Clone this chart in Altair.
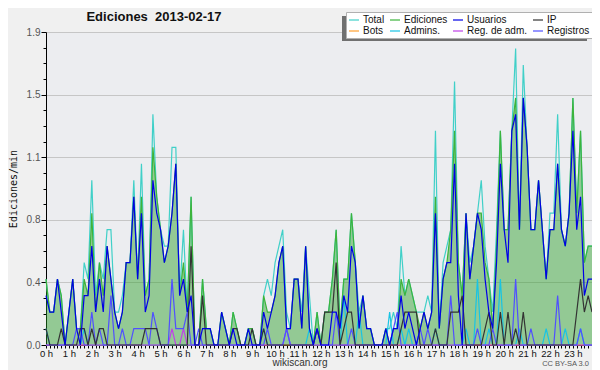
import altair as alt
import pandas as pd

# 10-minute slots over the day (minutes since midnight)
minutes = list(range(0, 1440, 10))

# legend order (filled column by column: Total/Bots, Ediciones/Admins., ...)
series_names = ["Total", "Bots", "Ediciones", "Admins.", "Usuarios", "Reg. de adm.", "IP", "Registros"]
series_colors = ["#40d0c8", "#ffa030", "#3cb43c", "#18c4e4", "#0000e6", "#c040e8", "#333333", "#5050ff"]

total = [
    0.4, 0.2, 0.2, 0.4, 0.3, 0.0,
    0.2, 0.4, 0.1, 0.1, 0.5, 0.4,
    1.0, 0.3, 0.5, 0.4, 0.7, 0.7,
    0.2, 0.2, 0.3, 0.5, 0.5, 1.0,
    0.4, 1.1, 0.3, 0.4, 1.4, 0.9,
    0.7, 0.6, 0.6, 1.2, 1.2, 0.3,
    0.7, 0.2, 0.9, 0.0, 0.0, 0.4,
    0.1, 0.1, 0.0, 0.0, 0.2, 0.1,
    0.0, 0.2, 0.1, 0.0, 0.0, 0.1,
    0.1, 0.0, 0.0, 0.3, 0.4, 0.3,
    0.5, 0.6, 0.7, 0.2, 0.1, 0.4,
    0.4, 0.2, 0.6, 0.3, 0.0, 0.2,
    0.0, 0.2, 0.2, 0.4, 0.7, 0.1,
    0.4, 0.4, 0.8, 0.5, 0.2, 0.3,
    0.1, 0.1, 0.0, 0.0, 0.0, 0.1,
    0.1, 0.2, 0.1, 0.6, 0.3, 0.4,
    0.3, 0.2, 0.2, 0.2, 0.3, 0.2,
    1.3, 0.1, 0.5, 0.6, 0.7, 1.6,
    0.5, 0.3, 0.8, 0.5, 0.6, 0.8,
    1.0, 0.6, 0.4, 0.2, 0.7, 1.3,
    0.7, 0.7, 1.3, 1.8, 0.7, 1.7,
    1.2, 0.7, 0.7, 1.0, 0.7, 0.4,
    0.8, 0.8, 1.4, 0.7, 0.6, 0.8,
    1.5, 0.8, 1.3, 0.5, 0.6, 0.6,
]

ediciones = [
    0.4, 0.2, 0.2, 0.4, 0.3, 0.0,
    0.2, 0.4, 0.1, 0.1, 0.4, 0.3,
    0.8, 0.2, 0.5, 0.3, 0.6, 0.4,
    0.2, 0.1, 0.2, 0.5, 0.5, 0.9,
    0.4, 0.9, 0.3, 0.4, 1.2, 0.9,
    0.7, 0.5, 0.6, 0.8, 1.1, 0.3,
    0.5, 0.2, 0.9, 0.0, 0.0, 0.4,
    0.1, 0.1, 0.0, 0.0, 0.2, 0.1,
    0.0, 0.2, 0.1, 0.0, 0.0, 0.1,
    0.1, 0.0, 0.0, 0.3, 0.2, 0.2,
    0.3, 0.5, 0.6, 0.1, 0.1, 0.4,
    0.4, 0.1, 0.6, 0.1, 0.0, 0.2,
    0.0, 0.2, 0.2, 0.4, 0.7, 0.1,
    0.4, 0.4, 0.8, 0.5, 0.1, 0.3,
    0.1, 0.1, 0.0, 0.0, 0.0, 0.1,
    0.0, 0.1, 0.1, 0.4, 0.3, 0.4,
    0.3, 0.2, 0.1, 0.2, 0.1, 0.2,
    0.9, 0.1, 0.4, 0.5, 0.7, 1.3,
    0.5, 0.3, 0.8, 0.4, 0.6, 0.8,
    0.8, 0.5, 0.4, 0.1, 0.6, 1.3,
    0.7, 0.7, 1.3, 1.5, 0.7, 1.5,
    1.2, 0.7, 0.7, 1.0, 0.7, 0.4,
    0.7, 0.7, 1.1, 0.7, 0.6, 0.8,
    1.5, 0.8, 1.3, 0.5, 0.6, 0.6,
]

usuarios = [
    0.3, 0.2, 0.2, 0.4, 0.2, 0.0,
    0.2, 0.4, 0.1, 0.0, 0.3, 0.3,
    0.6, 0.2, 0.4, 0.2, 0.6, 0.4,
    0.2, 0.1, 0.2, 0.5, 0.5, 0.9,
    0.4, 0.8, 0.2, 0.3, 1.0, 0.8,
    0.7, 0.5, 0.6, 0.8, 1.1, 0.3,
    0.4, 0.2, 0.3, 0.0, 0.0, 0.1,
    0.1, 0.1, 0.0, 0.0, 0.2, 0.1,
    0.0, 0.1, 0.0, 0.0, 0.0, 0.1,
    0.0, 0.0, 0.0, 0.2, 0.1, 0.2,
    0.3, 0.5, 0.6, 0.1, 0.1, 0.4,
    0.4, 0.1, 0.6, 0.1, 0.0, 0.1,
    0.0, 0.0, 0.0, 0.2, 0.2, 0.1,
    0.3, 0.2, 0.6, 0.5, 0.1, 0.3,
    0.1, 0.1, 0.0, 0.0, 0.0, 0.1,
    0.0, 0.1, 0.1, 0.3, 0.1, 0.2,
    0.1, 0.0, 0.1, 0.2, 0.1, 0.2,
    0.8, 0.1, 0.4, 0.5, 0.5, 1.1,
    0.3, 0.0, 0.8, 0.4, 0.6, 0.8,
    0.7, 0.4, 0.2, 0.1, 0.5, 1.1,
    0.7, 0.5, 1.3, 1.4, 0.7, 1.5,
    1.2, 0.7, 0.7, 1.0, 0.7, 0.4,
    0.7, 0.7, 1.1, 0.7, 0.6, 0.8,
    1.3, 0.7, 0.9, 0.3, 0.4, 0.4,
]

ip = [
    0.1, 0.0, 0.0, 0.0, 0.1, 0.0,
    0.0, 0.0, 0.0, 0.1, 0.1, 0.0,
    0.1, 0.0, 0.1, 0.1, 0.0, 0.0,
    0.0, 0.0, 0.0, 0.0, 0.0, 0.0,
    0.0, 0.0, 0.1, 0.1, 0.1, 0.1,
    0.0, 0.0, 0.0, 0.0, 0.0, 0.0,
    0.0, 0.0, 0.6, 0.0, 0.0, 0.3,
    0.0, 0.0, 0.0, 0.0, 0.0, 0.0,
    0.0, 0.1, 0.1, 0.0, 0.0, 0.0,
    0.1, 0.0, 0.0, 0.1, 0.0, 0.0,
    0.0, 0.0, 0.0, 0.0, 0.0, 0.0,
    0.0, 0.0, 0.0, 0.0, 0.0, 0.1,
    0.0, 0.2, 0.2, 0.2, 0.5, 0.0,
    0.1, 0.2, 0.2, 0.0, 0.0, 0.0,
    0.0, 0.0, 0.0, 0.0, 0.0, 0.0,
    0.0, 0.0, 0.0, 0.1, 0.2, 0.2,
    0.2, 0.2, 0.0, 0.0, 0.0, 0.0,
    0.1, 0.0, 0.0, 0.0, 0.2, 0.2,
    0.2, 0.3, 0.0, 0.0, 0.0, 0.0,
    0.0, 0.1, 0.2, 0.0, 0.0, 0.2,
    0.0, 0.2, 0.0, 0.1, 0.0, 0.2,
    0.0, 0.0, 0.0, 0.0, 0.0, 0.0,
    0.0, 0.0, 0.0, 0.0, 0.0, 0.0,
    0.0, 0.2, 0.4, 0.2, 0.3, 0.2,
]

bots = [0.0] * 144

admins = [
    0.1, 0.0, 0.0, 0.0, 0.0, 0.0,
    0.0, 0.0, 0.0, 0.0, 0.1, 0.0,
    0.0, 0.0, 0.0, 0.0, 0.0, 0.0,
    0.0, 0.0, 0.0, 0.0, 0.0, 0.0,
    0.0, 0.0, 0.0, 0.0, 0.0, 0.0,
    0.0, 0.0, 0.0, 0.0, 0.0, 0.0,
    0.0, 0.0, 0.0, 0.0, 0.0, 0.0,
    0.0, 0.0, 0.0, 0.0, 0.0, 0.0,
    0.0, 0.0, 0.0, 0.0, 0.0, 0.0,
    0.0, 0.0, 0.0, 0.1, 0.0, 0.0,
    0.0, 0.0, 0.0, 0.1, 0.0, 0.0,
    0.0, 0.0, 0.0, 0.1, 0.0, 0.0,
    0.0, 0.0, 0.0, 0.0, 0.0, 0.0,
    0.3, 0.0, 0.0, 0.0, 0.2, 0.0,
    0.0, 0.0, 0.0, 0.0, 0.0, 0.0,
    0.2, 0.0, 0.0, 0.1, 0.0, 0.1,
    0.0, 0.0, 0.0, 0.0, 0.0, 0.0,
    0.1, 0.0, 0.0, 0.0, 0.0, 0.0,
    0.0, 0.0, 0.1, 0.0, 0.0, 0.4,
    0.0, 0.0, 0.1, 0.0, 0.0, 0.4,
    0.0, 0.0, 0.0, 0.0, 0.1, 0.0,
    0.0, 0.0, 0.0, 0.0, 0.0, 0.1,
    0.0, 0.0, 0.0, 0.0, 0.1, 0.0,
    0.0, 0.0, 0.1, 0.0, 0.0, 0.0,
]

regadm = [
    0.0, 0.0, 0.0, 0.0, 0.0, 0.0,
    0.0, 0.0, 0.0, 0.0, 0.0, 0.0,
    0.0, 0.0, 0.0, 0.0, 0.0, 0.0,
    0.0, 0.0, 0.0, 0.0, 0.0, 0.0,
    0.0, 0.0, 0.0, 0.0, 0.0, 0.0,
    0.0, 0.0, 0.0, 0.1, 0.0, 0.0,
    0.1, 0.0, 0.0, 0.0, 0.0, 0.0,
    0.0, 0.0, 0.0, 0.0, 0.0, 0.0,
    0.0, 0.0, 0.0, 0.0, 0.0, 0.0,
    0.0, 0.0, 0.0, 0.0, 0.0, 0.0,
    0.0, 0.0, 0.0, 0.1, 0.0, 0.0,
    0.0, 0.0, 0.0, 0.0, 0.0, 0.0,
    0.0, 0.0, 0.0, 0.0, 0.0, 0.0,
    0.0, 0.0, 0.0, 0.0, 0.0, 0.0,
    0.0, 0.0, 0.0, 0.0, 0.0, 0.0,
    0.0, 0.0, 0.0, 0.0, 0.0, 0.0,
    0.0, 0.0, 0.0, 0.0, 0.0, 0.0,
    0.0, 0.0, 0.0, 0.0, 0.0, 0.0,
    0.0, 0.0, 0.0, 0.0, 0.0, 0.0,
    0.0, 0.0, 0.0, 0.0, 0.0, 0.0,
    0.0, 0.0, 0.0, 0.0, 0.0, 0.0,
    0.0, 0.0, 0.0, 0.0, 0.0, 0.0,
    0.0, 0.0, 0.0, 0.0, 0.0, 0.0,
    0.0, 0.0, 0.0, 0.0, 0.0, 0.0,
]

registros = [
    0.0, 0.0, 0.0, 0.0, 0.0, 0.0,
    0.0, 0.0, 0.1, 0.1, 0.0, 0.0,
    0.2, 0.0, 0.1, 0.0, 0.0, 0.3,
    0.0, 0.0, 0.1, 0.0, 0.0, 0.1,
    0.1, 0.1, 0.1, 0.0, 0.2, 0.1,
    0.0, 0.0, 0.0, 0.4, 0.1, 0.1,
    0.1, 0.2, 0.0, 0.0, 0.1, 0.0,
    0.0, 0.0, 0.0, 0.0, 0.0, 0.0,
    0.0, 0.0, 0.0, 0.0, 0.0, 0.0,
    0.0, 0.0, 0.0, 0.0, 0.1, 0.0,
    0.0, 0.0, 0.0, 0.1, 0.0, 0.0,
    0.0, 0.0, 0.0, 0.0, 0.0, 0.1,
    0.0, 0.0, 0.0, 0.0, 0.2, 0.0,
    0.0, 0.0, 0.1, 0.0, 0.0, 0.0,
    0.0, 0.0, 0.0, 0.0, 0.0, 0.0,
    0.0, 0.1, 0.2, 0.0, 0.0, 0.0,
    0.0, 0.0, 0.1, 0.0, 0.1, 0.0,
    0.0, 0.0, 0.0, 0.0, 0.3, 0.0,
    0.0, 0.0, 0.0, 0.0, 0.0, 0.1,
    0.0, 0.0, 0.0, 0.1, 0.0, 0.0,
    0.0, 0.0, 0.0, 0.4, 0.0, 0.0,
    0.0, 0.1, 0.0, 0.0, 0.0, 0.0,
    0.0, 0.0, 0.3, 0.0, 0.0, 0.0,
    0.0, 0.0, 0.1, 0.0, 0.0, 0.0,
]

title_text = "Ediciones\u00a0 2013-02-17"
footer_left = "wikiscan.org"
footer_right = "CC BY-SA 3.0"
y_title = "Ediciones/min"

# ---- long table -----------------------------------------------------------
series_values = {
    "Total": total, "Ediciones": ediciones, "Usuarios": usuarios, "IP": ip,
    "Bots": bots, "Admins.": admins, "Reg. de adm.": regadm, "Registros": registros,
}
rows = []
for name, vals in series_values.items():
    for m, v in zip(minutes, vals):
        rows.append({"t": m, "v": v, "s": name})
df = pd.DataFrame(rows)

y_tick_values = [round(k * 0.095, 4) for k in range(21)]
MAJ = "round(datum.value / 0.095) % 4 == 0"

x_axis = alt.Axis(
    values=minutes,
    labelExpr="datum.value % 60 == 0 ? (datum.value / 60) + ' h' : ''",
    labelOverlap=False,
    labelFlush=False,
    tickSize=3,
    tickColor="black",
    domainColor="black",
    grid=False,
    labelFont="Liberation Sans",
    labelFontSize=9.5,
    labelColor="#111",
    labelPadding=0,
    title=None,
)
y_axis = alt.Axis(
    values=y_tick_values,
    labelExpr=MAJ + " ? format(datum.value, '.1f') : ''",
    labelOverlap=False,
    labelFlush=False,
    tickSize={"condition": {"test": MAJ, "value": 5}, "value": 3},
    tickColor="black",
    domainColor="black",
    grid=True,
    gridColor="#c6c6c6",
    gridOpacity={"condition": {"test": MAJ, "value": 1}, "value": 0},
    labelFont="Liberation Sans",
    labelFontSize=10,
    labelColor="#555",
    labelPadding=1,
    title=y_title,
    titleFont="DejaVu Sans Mono",
    titleFontSize=10,
    titleFontWeight="normal",
    titleColor="#111",
    titlePadding=8,
)

x_enc = alt.X("t:Q", scale=alt.Scale(domain=[0, 1430], nice=False, zero=False), axis=x_axis)
y_enc = alt.Y("v:Q", scale=alt.Scale(domain=[0, 1.9], nice=False), axis=y_axis)
legend = alt.Legend(
    title=None,
    orient="none",
    legendX=300,
    legendY=-20,
    columns=4,
    symbolType="stroke",
    symbolSize=100,
    symbolStrokeWidth=1.2,
    labelFont="Liberation Sans",
    labelFontSize=10,
    labelColor="#111",
    labelOffset=3,
    columnPadding=2,
    rowPadding=0,
    padding=2,
    fillColor="white",
    strokeColor="#b0b0b0",
)
color_enc = alt.Color("s:N", scale=alt.Scale(domain=series_names, range=series_colors), legend=legend)

base = alt.Chart(df)

area = base.transform_filter(alt.datum.s == "Ediciones").mark_area(
    color="#289d24", opacity=0.45
).encode(x=x_enc, y=y_enc)

draw_order = ["Total", "Ediciones", "Bots", "Admins.", "Reg. de adm.", "Registros", "IP", "Usuarios"]
lines = [
    base.transform_filter(alt.datum.s == n).mark_line(strokeWidth=1.2).encode(
        x=x_enc, y=y_enc, color=color_enc
    )
    for n in draw_order
]

one = pd.DataFrame({"k": [0]})
shadow = alt.Chart(one).mark_rect(color="#707070").encode(
    x=alt.value(296), x2=alt.value(541), y=alt.value(-16), y2=alt.value(9)
)
title_mark = alt.Chart(one).mark_text(
    text=title_text, font="Liberation Sans", fontSize=13, fontWeight="bold",
    color="#111", align="center", baseline="alphabetic"
).encode(x=alt.value(108), y=alt.value(-11))
foot1 = alt.Chart(one).mark_text(
    text=footer_left, font="Liberation Sans", fontSize=10, color="#333",
    align="center", baseline="alphabetic"
).encode(x=alt.value(254), y=alt.value(334))
foot2 = alt.Chart(one).mark_text(
    text=footer_right, font="Liberation Sans", fontSize=7.5, color="#555",
    align="right", baseline="alphabetic"
).encode(x=alt.value(543), y=alt.value(334))

chart = alt.layer(shadow, area, *lines, title_mark, foot1, foot2).properties(
    width=546,
    height=313,
    padding={"left": 38, "top": 24, "right": 0, "bottom": 25},
    autosize=alt.AutoSizeParams(type="none"),
    background="#f0f0f0",
).configure_view(fill="#ecedf0", stroke="transparent")

chart.save("out.html", embed_options={"renderer": "svg", "actions": False})
